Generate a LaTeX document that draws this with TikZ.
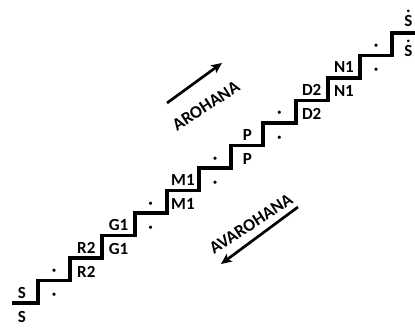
\documentclass[tikz,border=0pt]{standalone}
\usepackage{fontspec}
\setmainfont{Carlito}
\usepackage{tikz}
\usetikzlibrary{calc, arrows.meta}

% upper-octave Sa, a dot over the S
\newcommand{\tarsa}{\shortstack{.\\S}}

\begin{document}
\begin{tikzpicture}[x = 0.3mm, y = 0.3mm,
		stair/.style = {line width = 3.4pt, line join = miter},
		note/.style = {font = \fontsize{14.5}{16}\selectfont\bfseries, inner sep = 0pt, anchor = base},
		raga/.style = {font = \fontsize{15}{17}\selectfont\bfseries, inner sep = 0pt, rotate = 33},
		heading/.style = {line width = 2.3pt, -{Stealth[length = 9pt, width = 8pt, inset = 2pt]}}]
		\def\treadw{32.2}
		\def\riseh{22.5}
		
		\useasboundingbox (0,0) rectangle (415,331);
		
		\begin{scope}
			\draw [stair] (12,28)
				\foreach \k in {1,...,12} {
					-| ({38 + \treadw*(\k-1)}, {28 + \riseh*\k})
				}
				-- (415, {28 + \riseh*12});
		\end{scope}
		
		\begin{scope}
			\foreach \k/\swara in {0/S, 1/{·}, 2/R2, 3/G1, 4/{·}, 5/M1, 6/{·}, 7/P, 8/{·}, 9/D2, 10/N1, 11/{·}} {
				\node [note] (up\k) at ({38 + \treadw*(\k-0.5)}, {28 + \riseh*\k + 5}) {\swara};
				\node [note] (dn\k) at ({38 + \treadw*(\k-0.5)}, {28 + \riseh*(\k-1) + 3.5}) {\swara};
			}
			\node [note] (up12) at ({38 + \treadw*11.5}, 304) {\tarsa};
			\node [note] (dn12) at ({38 + \treadw*11.5}, 274) {\tarsa};
		\end{scope}
		
		\begin{scope}
			\coordinate (aro tail) at (167,228);
			\coordinate (aro head) at (222,268);
			\coordinate (ava tail) at (298,124);
			\coordinate (ava head) at (221,67);
			\draw [heading] (aro tail) -- (aro head);
			\draw [heading] (ava tail) -- (ava head);
			\node [raga] (aro) at (206,225) {AROHANA};
			\node [raga] (ava) at (251,107) {AVAROHANA};
		\end{scope}
	\end{tikzpicture}
\end{document}
